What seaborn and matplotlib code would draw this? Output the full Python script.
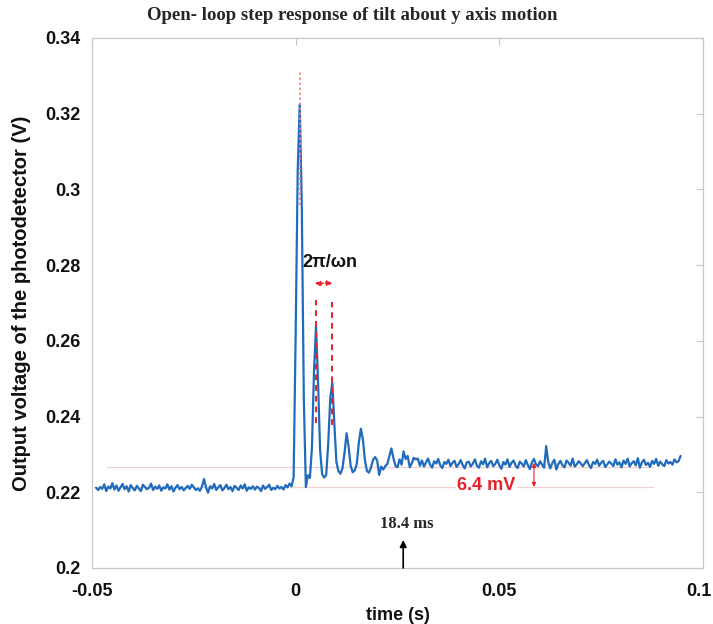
import numpy as np
import pandas as pd
import matplotlib
matplotlib.use("Agg")
import matplotlib.pyplot as plt
import matplotlib.transforms as mtransforms
import seaborn as sns

# Photodetector output (mV), sampled every 0.5 ms
dt_ms = 0.5

# before the step: t = -49.0 ... -1.0 ms
v_pre = [
    221.2, 220.6, 221.4, 220.9, 222.1, 220.3, 221.5, 221.0, 222.4, 220.7,
    221.8, 220.4, 221.3, 222.2, 220.8, 221.6, 220.2, 221.9, 221.1, 220.5,
    221.7, 221.0, 220.3, 222.0, 221.4, 220.8, 221.2, 222.3, 220.6, 221.5,
    220.9, 221.8, 220.4, 221.3, 221.0, 222.1, 220.7, 221.6, 220.2, 221.2,
    221.9, 220.8, 221.4, 220.5, 221.1, 221.7, 220.9, 222.0, 221.3, 220.6,
    221.0, 220.4, 221.5, 223.5, 221.2, 219.9, 221.6, 221.0, 222.2, 220.6,
    221.3, 221.9, 220.5, 221.1, 222.0, 220.8, 221.4, 220.3, 221.7, 221.2,
    220.6, 221.8, 221.0, 222.1, 220.4, 221.3, 220.9, 221.6, 220.7, 221.5,
    221.1, 220.3, 221.8, 220.9, 221.4, 222.0, 220.6, 221.2, 220.8, 221.7,
    221.0, 221.4, 220.7, 221.9, 221.3, 222.3, 221.6,
]
t_pre_start = -49.0

# transient: t = -0.5 ... 30.0 ms
v_trans = [
    224.0, 262.0, 305.0, 322.5, 296.0, 245.0, 221.4, 224.5, 223.8, 232.0,
    252.0, 264.0, 249.0, 231.0, 224.8, 223.9, 224.6, 233.0, 245.0, 249.0,
    238.0, 228.0, 225.6, 224.9, 226.4, 230.5, 235.6, 232.0, 227.0, 225.3,
    225.8, 227.5, 233.0, 236.8, 234.0, 228.5, 225.6, 225.2, 226.6, 228.6,
    229.3, 228.4, 224.6, 226.8, 226.0, 226.9, 227.5, 229.6, 231.6, 229.0,
    227.0, 226.6, 228.7, 227.3, 230.8, 228.8, 229.6, 226.6, 227.6, 229.1,
    228.7, 228.9,
]
t_trans_start = -0.5

# settled: t = 30.5 ... 94.5 ms
v_post = [
    227.0, 228.4, 226.8, 227.9, 228.9, 227.3, 226.5, 228.2, 227.6, 228.8,
    227.1, 226.4, 228.0, 227.5, 228.6, 226.9, 227.8, 228.3, 226.7, 227.4,
    228.5, 227.2, 226.3, 227.9, 228.1, 226.8, 227.6, 228.7, 227.0, 226.5,
    228.2, 227.4, 228.9, 226.6, 227.7, 228.3, 226.9, 227.5, 228.6, 227.1,
    226.2, 228.0, 227.3, 228.7, 226.7, 227.8, 228.4, 227.0, 226.4, 228.1,
    227.6, 226.8, 228.5, 227.2, 226.1, 227.9, 228.8, 227.4, 226.9, 228.2,
    227.3, 226.5, 232.2, 228.0, 226.3, 227.7, 228.6, 226.0, 227.5, 228.3,
    227.1, 226.6, 228.4, 227.8, 227.0, 228.9, 226.8, 227.4, 228.2, 227.6,
    226.9, 227.7, 228.5, 227.2, 226.4, 228.0, 227.5, 228.6, 227.0, 227.8,
    228.3, 226.7, 227.4, 228.1, 227.6, 226.9, 228.7, 227.3, 227.9, 226.6,
    228.4, 227.5, 228.9, 226.8, 227.7, 228.2, 227.1, 229.0, 226.5, 227.9,
    228.6, 227.2, 227.8, 226.7, 228.3, 227.5, 228.8, 227.0, 228.1, 227.4,
    226.9, 228.5, 227.6, 228.0, 227.3, 228.7, 227.9, 228.2, 229.6,
]
t_post_start = 30.5

# reference levels and annotation values
level_low = 0.2214          # V, before the step
level_high = 0.2267         # V, guide line
offset_mv = 6.4             # steady-state offset
t_peak1, t_peak2, t_peak3 = 0.001, 0.005, 0.009
t_marker = 0.0264

x_ticks = [-0.05, 0, 0.05, 0.1]
x_tick_labels = ["-0.05", "0", "0.05", "0.1"]
y_ticks = [0.2, 0.22, 0.24, 0.26, 0.28, 0.3, 0.32, 0.34]
y_tick_labels = ["0.2", "0.22", "0.24", "0.26", "0.28", "0.3", "0.32", "0.34"]


def seg_time(start_ms, n):
    return (start_ms + dt_ms * np.arange(n)) / 1000.0


t = np.concatenate([seg_time(t_pre_start, len(v_pre)),
                    seg_time(t_trans_start, len(v_trans)),
                    seg_time(t_post_start, len(v_post))])
v = np.concatenate([v_pre, v_trans, v_post]) / 1000.0
df = pd.DataFrame({"time": t, "volt": v})

sns.set_theme(style="white")
plt.rcParams["font.family"] = ["Liberation Sans", "DejaVu Sans"]

fig = plt.figure(figsize=(7.13, 6.24), dpi=100)
ax = fig.add_axes([92 / 713, 56 / 624, 611 / 713, 530 / 624])

red = "#e8202a"
guide = "#f2d0d0"

# guide levels
ax.plot([-0.0495, 0.0878], [level_low, level_low], color=guide, lw=0.9, zorder=1)
ax.plot([-0.0462, 0.0878], [level_high, level_high], color=guide, lw=0.9, zorder=1)

sns.lineplot(data=df, x="time", y="volt", ax=ax, color="#1f6cbf", lw=1.6,
             zorder=3, legend=False)

# peak markers
ax.plot([t_peak1, t_peak1], [0.296, 0.331], color="#f08080", lw=1.2,
        ls=(0, (1.5, 1.5)), zorder=4)
for tp, y0, y1 in [(t_peak2, 0.2383, 0.2708), (t_peak3, 0.2378, 0.2703)]:
    ax.plot([tp, tp], [y0, y1], color=red, lw=1.4, ls=(0, (3, 2.5)), zorder=4)
ax.annotate("", xy=(t_peak3, 0.2752), xytext=(t_peak2 - 0.0003, 0.2752),
            arrowprops=dict(arrowstyle="<|-|>", color=red, lw=1.2, ls="--",
                            mutation_scale=7, shrinkA=0, shrinkB=0), zorder=5)
ax.text(0.0085, 0.2806, "2π/ωn", color="#111111", fontsize=13,
        fontweight="bold", ha="center", va="center")

# steady-state offset
ax.annotate("", xy=(0.0585, level_low + offset_mv / 1000.0),
            xytext=(0.0585, level_low),
            arrowprops=dict(arrowstyle="<|-|>", color=red, lw=0.8,
                            mutation_scale=6, shrinkA=0, shrinkB=0), zorder=5)
ax.text(0.0468, 0.2219, f"{offset_mv} mV", color=red, fontsize=13,
        fontweight="bold", ha="center", va="center", zorder=6,
        bbox=dict(facecolor="white", edgecolor="none", pad=1.0))

# time marker
ax.annotate("", xy=(t_marker, 0.2074), xytext=(t_marker, 0.2),
            arrowprops=dict(arrowstyle="-|>", color="black", lw=1.2,
                            mutation_scale=10, shrinkA=0, shrinkB=0), zorder=5)
ax.text(t_marker + 0.0008, 0.2116, "18.4 ms", fontsize=12, fontweight="bold",
        family=["Liberation Serif", "DejaVu Serif"], ha="center", va="center")

ax.set_xlim(-0.05, 0.1)
ax.set_ylim(0.2, 0.34)
ax.set_xticks(x_ticks)
ax.set_xticklabels(x_tick_labels)
ax.set_yticks(y_ticks)
ax.set_yticklabels(y_tick_labels)
for lab in ax.get_xticklabels() + ax.get_yticklabels():
    lab.set_fontweight("bold")
    lab.set_fontsize(13)
    lab.set_color("#111111")
ax.tick_params(axis="both", direction="in", length=5, width=0.8,
               color="#c8c8c8", top=True, right=True)
ax.tick_params(axis="x", pad=11)
ax.tick_params(axis="y", pad=8)
# keep the last x tick label inside the canvas
last = ax.get_xticklabels()[-1]
last.set_transform(last.get_transform() +
                   mtransforms.ScaledTranslation(-4 / 100, 0, fig.dpi_scale_trans))
for sp in ax.spines.values():
    sp.set_visible(True)
    sp.set_color("#c8c8c8")
    sp.set_linewidth(0.9)

ax.set_xlabel("time (s)", fontsize=13, fontweight="bold", color="#111111")
ax.set_ylabel("Output voltage of the photodetector (V)", fontsize=14.5,
              fontweight="bold", color="#111111")
ax.xaxis.set_label_coords(0.5, -0.074)
ax.yaxis.set_label_coords(-0.10, 0.5)

fig.text(352 / 713, 1 - 16 / 624,
         "Open- loop step response of tilt about y axis motion",
         fontsize=13.5, fontweight="bold", family=["Liberation Serif", "DejaVu Serif"],
         ha="center", va="center")

fig.savefig("out.png", dpi=100)
